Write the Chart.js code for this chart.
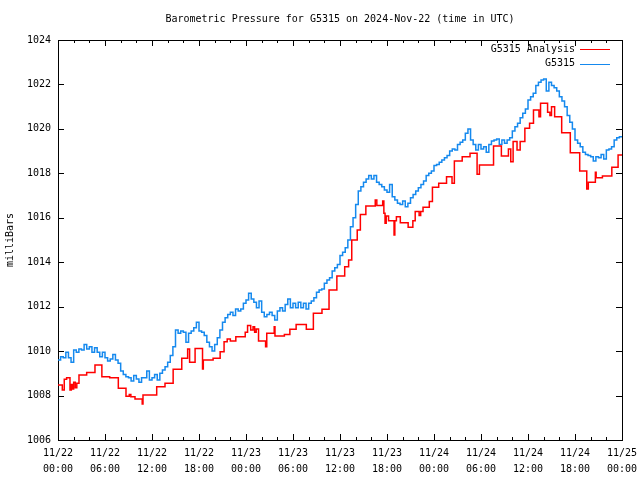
<!DOCTYPE html>
<html>
<head>
<meta charset="utf-8">
<script src="https://cdn.jsdelivr.net/npm/chart.js@4.4.0/dist/chart.umd.min.js"></script>
<style>
  html, body { margin: 0; padding: 0; background: #fff; }
</style>
</head>
<body>
<canvas id="myChart" width="640" height="480"></canvas>
<script>
'use strict';

// x axis: hours since 2024-11-22 00:00 UTC
const xLabels = [
  ['11/22', '00:00'], ['11/22', '06:00'], ['11/22', '12:00'], ['11/22', '18:00'],
  ['11/23', '00:00'], ['11/23', '06:00'], ['11/23', '12:00'], ['11/23', '18:00'],
  ['11/24', '00:00'], ['11/24', '06:00'], ['11/24', '12:00'], ['11/24', '18:00'],
  ['11/25', '00:00']
];
const yTicks = [1006, 1008, 1010, 1012, 1014, 1016, 1018, 1020, 1022, 1024];

// G5315 Analysis (step changes: hour, value)
const analysisHours = [
  0, 0.55, 0.8, 1.1, 1.53, 1.7, 1.85, 2.0, 2.2, 2.4,
  2.68, 3.66, 4.72, 5.6, 6.6, 7.7, 8.68, 9.1, 9.3, 9.83,
  10.75, 10.85, 12.6, 13.66, 14.7, 15.8, 16.55, 16.8, 17.5, 18.45,
  18.55, 19.8, 20.7, 21.2, 21.6, 22.0, 22.7, 23.9, 24.2, 24.6,
  24.9, 25.1, 25.3, 25.6, 26.5, 26.65, 27.6, 27.7, 28.9, 29.6,
  30.4, 31.7, 32.6, 33.7, 34.6, 35.6, 36.6, 37.1, 37.5, 38.2,
  38.6, 39.3, 40.5, 40.7, 41.45, 41.6, 41.75, 41.9, 42.2, 42.9,
  43.0, 43.2, 43.7, 44.7, 45.3, 45.6, 46.1, 46.3, 46.6, 47.4,
  47.8, 48.6, 49.6, 50.3, 50.6, 51.6, 52.6, 53.5, 53.8, 55.6,
  56.6, 57.5, 57.8, 58.1, 58.6, 59.0, 59.6, 60.2, 60.7, 61.4,
  61.6, 62.5, 62.8, 63.0, 63.4, 64.3, 65.4, 66.6, 67.5, 67.7,
  68.6, 68.7, 69.5, 70.7, 71.5, 72
];
const analysisValues = [
  1008.47, 1008.25, 1008.73, 1008.8, 1008.25, 1008.5, 1008.3, 1008.6, 1008.35, 1008.55,
  1008.92, 1009.04, 1009.38, 1008.85, 1008.8, 1008.33, 1007.97, 1008.05, 1007.95, 1007.85,
  1007.62, 1008.02, 1008.4, 1008.55, 1009.18, 1009.68, 1010.1, 1009.5, 1010.12, 1009.2,
  1009.6, 1009.68, 1009.97, 1010.42, 1010.55, 1010.45, 1010.65, 1010.85, 1011.15, 1010.95,
  1011.1, 1010.85, 1011.0, 1010.45, 1010.2, 1010.8, 1011.1, 1010.68, 1010.75, 1010.98,
  1011.2, 1010.98, 1011.7, 1011.88, 1012.75, 1013.38, 1013.8, 1014.1, 1015.0, 1015.45,
  1016.15, 1016.53, 1016.8, 1016.55, 1016.75, 1016.2, 1015.75, 1016.08, 1015.87, 1015.23,
  1015.87, 1016.05, 1015.78, 1015.57, 1015.87, 1016.28, 1016.1, 1016.28, 1016.47, 1016.73,
  1017.37, 1017.55, 1017.85, 1017.55, 1018.55, 1018.75, 1018.9, 1017.96, 1018.38, 1019.23,
  1018.78, 1019.1, 1018.52, 1019.43, 1019.05, 1019.43, 1020.03, 1020.25, 1020.85, 1020.55,
  1021.15, 1020.75, 1020.6, 1021.0, 1020.55, 1019.83, 1018.93, 1018.1, 1017.3, 1017.6,
  1018.05, 1017.8, 1017.88, 1018.27, 1018.83, 1018.83
];

// G5315 station, one reading every 20 minutes (3 per hour)
const stationValues = [
  1009.6, 1009.75, 1009.7,   1009.95, 1009.7, 1009.5,    1010.05, 1009.95, 1010.1,
  1010.05, 1010.3, 1010.1,   1010.2, 1009.95, 1010.15,   1009.95, 1009.75, 1009.95,
  1009.7, 1009.55, 1009.65,  1009.85, 1009.6, 1009.45,   1009.1, 1008.95, 1008.85,
  1008.8, 1008.65, 1008.9,   1008.75, 1008.6, 1008.8,    1008.8, 1009.1, 1008.7,
  1008.8, 1008.95, 1008.7,   1009.0, 1009.15, 1009.3,    1009.5, 1009.8, 1010.2,
  1010.95, 1010.8, 1010.9,   1010.85, 1010.4, 1010.8,    1010.9, 1011.05, 1011.3,
  1010.9, 1010.85, 1010.7,   1010.4, 1010.2, 1010.0,     1010.3, 1010.6, 1010.95,
  1011.3, 1011.5, 1011.65,   1011.75, 1011.6, 1011.9,    1011.8, 1011.9, 1012.15,
  1012.3, 1012.6, 1012.35,   1012.2, 1011.95, 1012.25,   1011.75, 1011.55, 1011.65,
  1011.75, 1011.6, 1011.4,   1011.8, 1011.95, 1011.8,    1012.1, 1012.35, 1011.95,
  1012.15, 1011.95, 1012.2,  1011.95, 1012.15, 1011.9,   1012.15, 1012.25, 1012.4,
  1012.65, 1012.75, 1012.8,  1013.05, 1013.2, 1013.3,    1013.6, 1013.75, 1013.9,
  1014.3, 1014.45, 1014.65,  1015.0, 1015.6, 1016.0,     1016.6, 1017.2, 1017.4,
  1017.6, 1017.75, 1017.9,   1017.75, 1017.9, 1017.6,    1017.5, 1017.4, 1017.25,
  1017.15, 1017.5, 1016.95,  1016.8, 1016.65, 1016.6,    1016.75, 1016.5, 1016.65,
  1016.9, 1017.05, 1017.2,   1017.35, 1017.5, 1017.65,   1017.9, 1018.0, 1018.1,
  1018.35, 1018.4, 1018.5,   1018.6, 1018.7, 1018.8,     1019.0, 1019.1, 1019.05,
  1019.3, 1019.4, 1019.5,    1019.8, 1020.0, 1019.5,     1019.3, 1019.05, 1019.3,
  1019.1, 1019.2, 1018.95,   1019.3, 1019.45, 1019.5,    1019.55, 1019.3, 1019.5,
  1019.35, 1019.5, 1019.6,   1019.9, 1020.1, 1020.25,    1020.5, 1020.7, 1020.9,
  1021.3, 1021.45, 1021.6,   1021.95, 1022.1, 1022.2,    1022.25, 1021.7, 1022.1,
  1021.95, 1021.85, 1021.7,  1021.45, 1021.25, 1021.0,   1020.6, 1020.3, 1020.0,
  1019.5, 1019.35, 1019.2,   1018.95, 1018.85, 1018.8,   1018.75, 1018.55, 1018.75,
  1018.7, 1018.85, 1018.65,  1019.05, 1019.1, 1019.2,    1019.5, 1019.6, 1019.65,
  1019.65
];

const FONT = "'DejaVu Sans Mono', 'Liberation Mono', monospace";

const analysisData = [];
for (let i = 0; i < analysisHours.length; i++) {
  analysisData.push({ x: analysisHours[i], y: analysisValues[i] });
}
const stationData = [];
for (let i = 0; i < stationValues.length; i++) {
  stationData.push({ x: i / 3, y: stationValues[i] });
}

// border, inward tics on all four sides, and the key
const frame = {
  id: 'frame',
  beforeDatasetsDraw(chart) {
    const ctx = chart.ctx;
    const a = chart.chartArea;
    const xs = chart.scales.x;
    const ys = chart.scales.y;
    ctx.save();
    ctx.strokeStyle = '#000';
    ctx.lineWidth = 1;
    ctx.beginPath();
    for (let h = 0; h <= 72; h += 2) {
      const px = Math.round(xs.getPixelForValue(h)) + 0.5;
      const len = h % 6 === 0 ? 6 : 3;
      ctx.moveTo(px, a.bottom); ctx.lineTo(px, a.bottom - len);
      ctx.moveTo(px, a.top); ctx.lineTo(px, a.top + len);
    }
    yTicks.forEach(function (v) {
      const py = Math.round(ys.getPixelForValue(v)) + 0.5;
      ctx.moveTo(a.left, py); ctx.lineTo(a.left + 6, py);
      ctx.moveTo(a.right, py); ctx.lineTo(a.right - 6, py);
    });
    ctx.stroke();
    ctx.strokeRect(Math.round(a.left) + 0.5, Math.round(a.top) + 0.5,
      Math.round(a.right - a.left), Math.round(a.bottom - a.top));
    ctx.restore();
  },
  afterDraw(chart) {
    const ctx = chart.ctx;
    const a = chart.chartArea;
    ctx.save();
    ctx.font = '10px ' + FONT;
    ctx.textAlign = 'right';
    ctx.textBaseline = 'middle';
    chart.data.datasets.forEach(function (ds, i) {
      const y = a.top + 9 + i * 14.5;
      ctx.fillStyle = '#000';
      ctx.fillText(ds.label, a.right - 47, y);
      ctx.strokeStyle = ds.borderColor;
      ctx.lineWidth = 1;
      ctx.beginPath();
      ctx.moveTo(a.right - 42, Math.round(y) + 0.5);
      ctx.lineTo(a.right - 12, Math.round(y) + 0.5);
      ctx.stroke();
    });
    ctx.restore();
  }
};

const config = {
  type: 'line',
  data: {
    datasets: [{
      label: 'G5315 Analysis',
      data: analysisData,
      borderColor: '#ff0000',
      borderWidth: 1.5,
      stepped: true,
      pointRadius: 0,
      fill: false
    }, {
      label: 'G5315',
      data: stationData,
      borderColor: '#1589ee',
      borderWidth: 1.5,
      stepped: true,
      pointRadius: 0,
      fill: false
    }]
  },
  options: {
    responsive: false,
    animation: false,
    devicePixelRatio: 1,
    layout: { padding: { left: 0, right: 18, top: 0, bottom: 0 } },
    plugins: {
      legend: { display: false },
      tooltip: { enabled: false },
      title: {
        display: true,
        text: 'Barometric Pressure for G5315 on 2024-Nov-22 (time in UTC)',
        fullSize: false,
        color: '#000',
        font: { family: FONT, size: 10, weight: 'normal', lineHeight: 1.2 },
        padding: { top: 13, bottom: 15 }
      }
    },
    scales: {
      x: {
        type: 'linear',
        min: 0,
        max: 72,
        grid: { display: false, drawTicks: false },
        border: { display: false },
        afterFit: function (s) {
          s.height = 40;
          s.paddingLeft = 0;
          s.paddingRight = 0;
        },
        ticks: {
          stepSize: 6,
          autoSkip: false,
          maxRotation: 0,
          padding: 5,
          color: '#000',
          font: { family: FONT, size: 10, lineHeight: 1.6 },
          callback: function (v) { return xLabels[Math.round(v / 6)]; }
        }
      },
      y: {
        min: 1006,
        max: 1024,
        grid: { display: false, drawTicks: false },
        border: { display: false },
        afterFit: function (s) {
          s.width = 58;
          s.paddingTop = 0;
          s.paddingBottom = 0;
        },
        afterBuildTicks: function (s) {
          s.ticks = yTicks.map(function (v) { return { value: v }; });
        },
        title: {
          display: true,
          text: 'milliBars',
          color: '#000',
          font: { family: FONT, size: 10 },
          padding: { top: 4, bottom: 0 }
        },
        ticks: {
          padding: 7,
          color: '#000',
          font: { family: FONT, size: 10 },
          callback: function (v) { return String(v); }
        }
      }
    }
  },
  plugins: [frame]
};

const myChart = new Chart(document.getElementById('myChart'), config);
</script>
</body>
</html>
